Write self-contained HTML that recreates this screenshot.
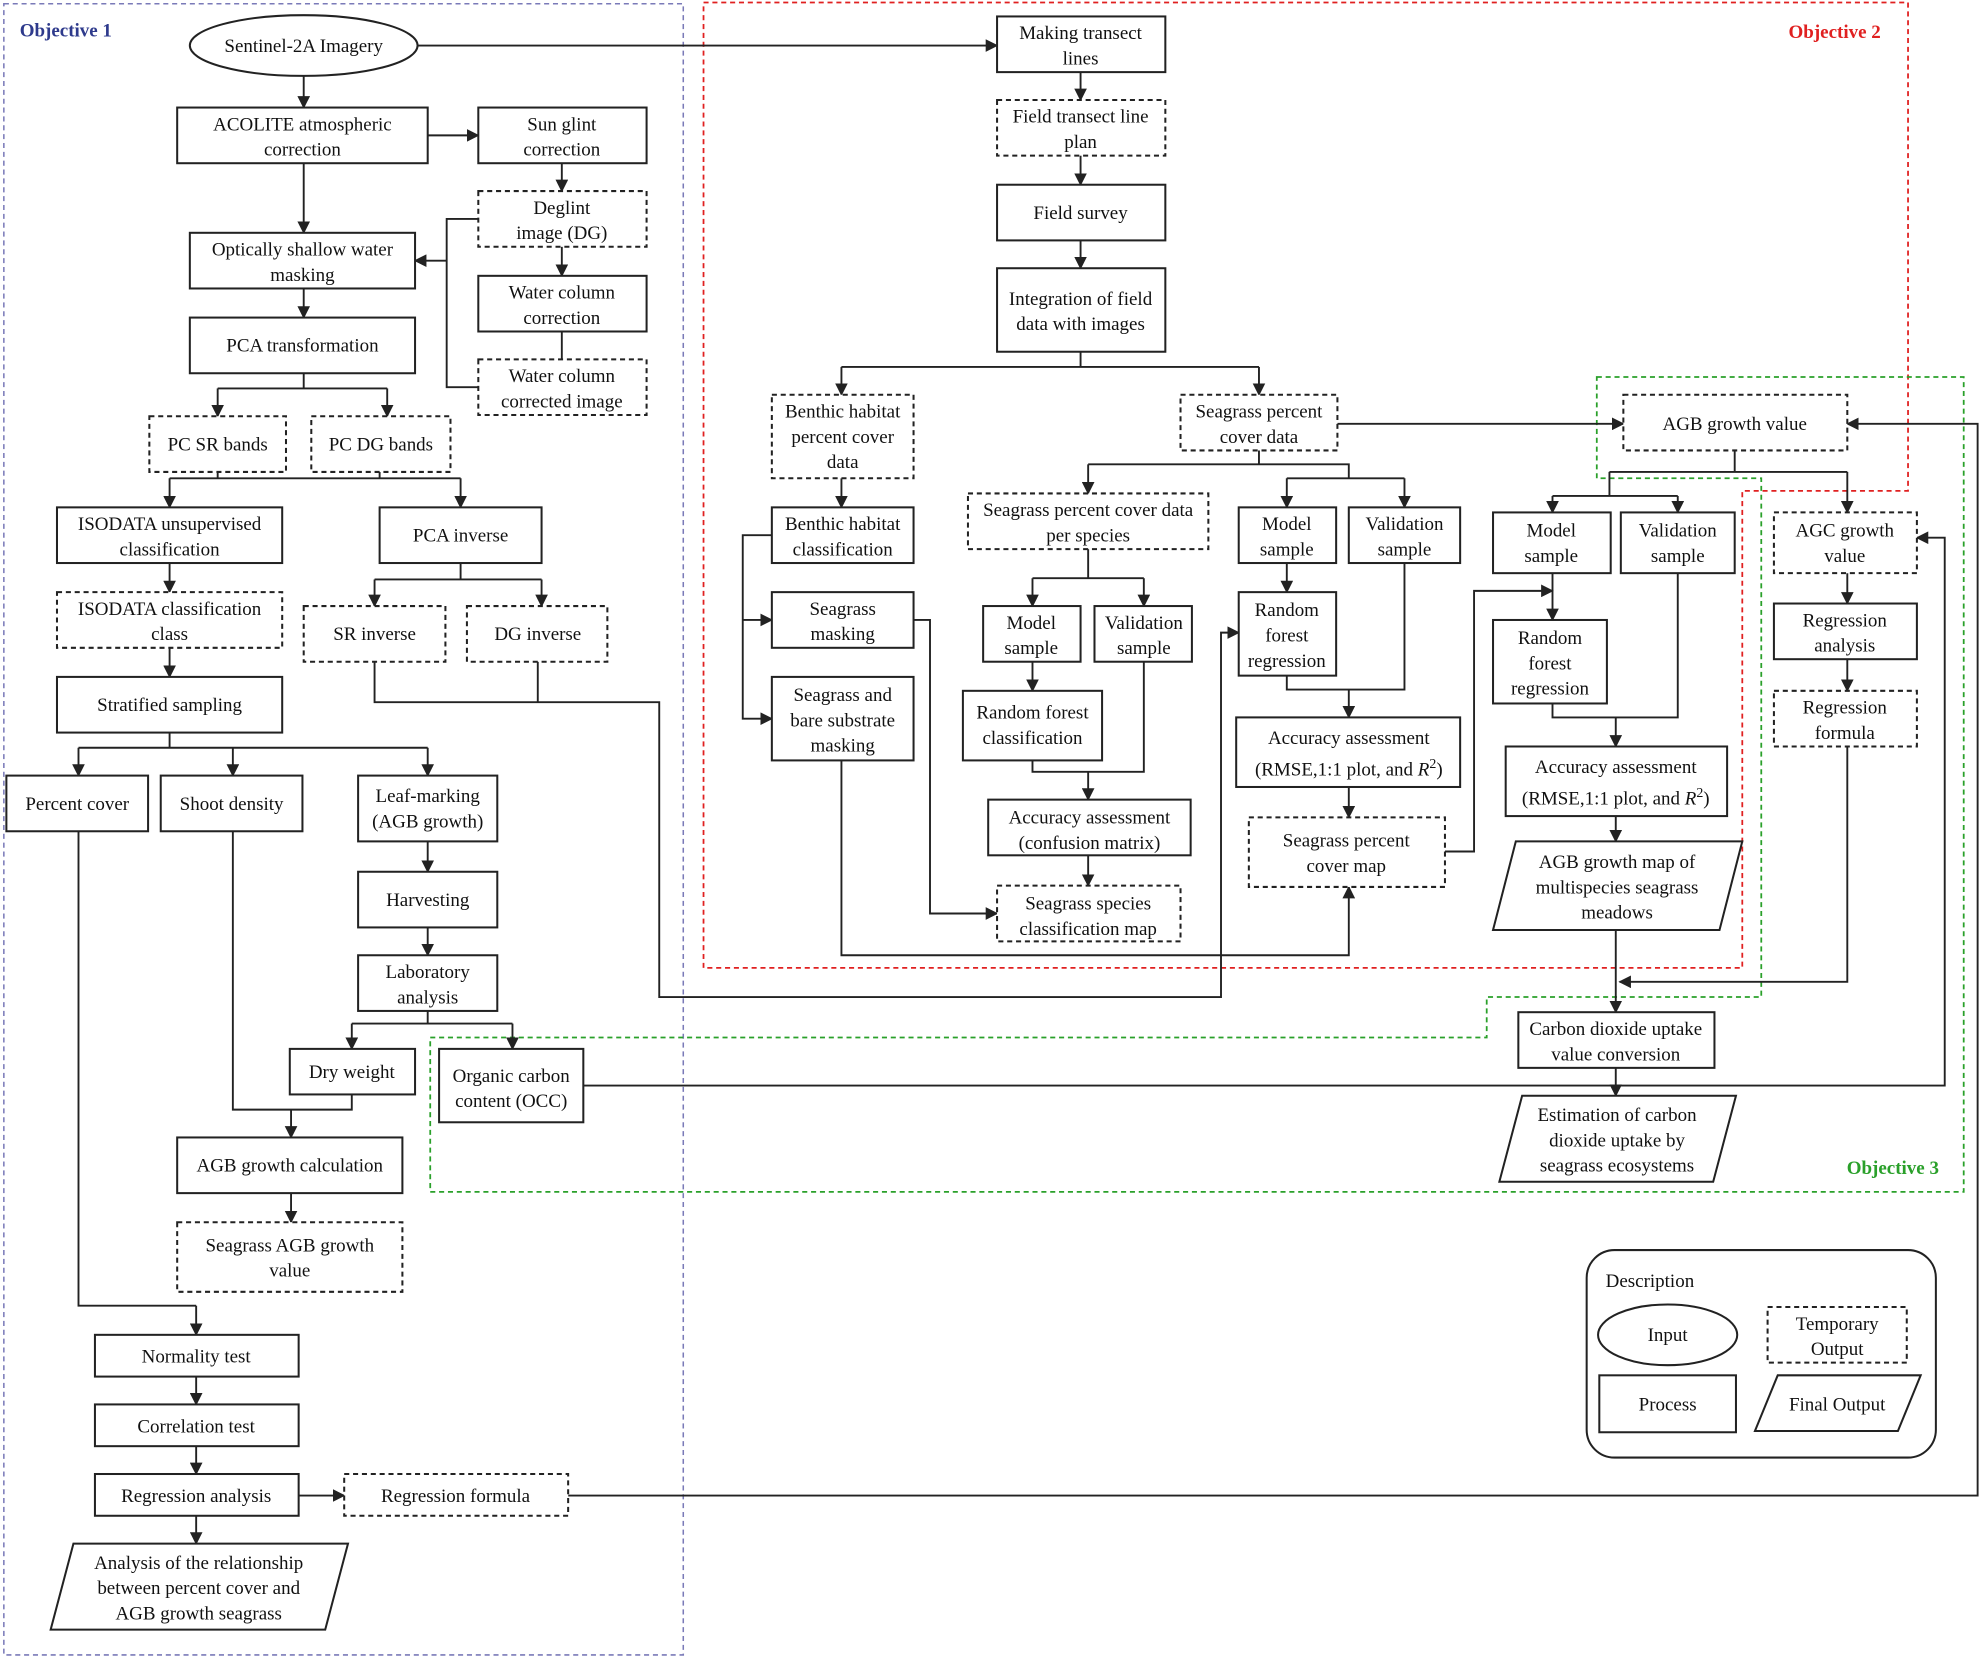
<!DOCTYPE html>
<html><head><meta charset="utf-8"><style>
html,body{margin:0;padding:0;background:#fff;}
svg{display:block;}
text{font-family:"Liberation Serif",serif;font-size:15px;fill:#111;text-anchor:middle;}
.b{fill:#fff;stroke:#222;stroke-width:1.6;}
.d{fill:#fff;stroke:#222;stroke-width:1.6;stroke-dasharray:4 3;}
.l{fill:none;stroke:#222;stroke-width:1.5;}
.a{fill:none;stroke:#222;stroke-width:1.5;marker-end:url(#ar);}
</style></head><body>
<svg width="1984" height="1660" viewBox="0 0 1568 1312" xmlns="http://www.w3.org/2000/svg">
<defs><marker id="ar" viewBox="0 0 10 10" refX="9" refY="5" markerWidth="10" markerHeight="10" orient="auto-start-reverse" markerUnits="userSpaceOnUse"><path d="M0,0 L10,5 L0,10 z" fill="#222"/></marker></defs>
<rect width="1568" height="1312" fill="#fff"/>
<rect x="3" y="3" width="537" height="1305" fill="none" stroke="#7a7ab8" stroke-width="1.2" stroke-dasharray="4 3"/>
<text x="52" y="29" style="font-weight:bold;fill:#2e3a8c;font-size:15px">Objective 1</text>
<path d="M556,2 H1508 V388 H1377 V765 H556 Z" fill="none" stroke="#e02020" stroke-width="1.4" stroke-dasharray="4 3"/>
<text x="1450" y="30" style="font-weight:bold;fill:#e02020">Objective 2</text>
<path d="M1262,298 H1552 V942 H340 V820 H1175 V788 H1392 V378 H1262 Z" fill="none" stroke="#2aa02a" stroke-width="1.4" stroke-dasharray="4 3"/>
<text x="1496" y="928" style="font-weight:bold;fill:#2aa02a">Objective 3</text>

<path class="a" d="M330,36 H788"/>
<path class="a" d="M240,60 V85"/>
<path class="a" d="M338,107 H378"/>
<path class="a" d="M444,129 V151"/>
<path class="a" d="M240,129 V184"/>
<path class="a" d="M444,195 V218"/>
<path class="l" d="M444,262 V284"/>
<path class="l" d="M378,173 H353 V306 H378"/>
<path class="a" d="M353,206 H328"/>
<path class="a" d="M240,228 V251"/>
<path class="l" d="M240,295 V307 M172,307 H306"/>
<path class="a" d="M172,307 V329"/><path class="a" d="M306,307 V329"/>
<path class="l" d="M172,373 V378 M300,373 V378 M134,378 H364"/>
<path class="a" d="M134,378 V401"/><path class="a" d="M364,378 V401"/>
<path class="a" d="M134,445 V468"/><path class="a" d="M134,512 V535"/>
<path class="l" d="M364,445 V458 M296,458 H428"/>
<path class="a" d="M296,458 V479"/><path class="a" d="M428,458 V479"/>
<path class="a" d="M296,523 V555 H521 V788 H965 V500 H979"/>
<path class="l" d="M425,523 V555"/>
<path class="l" d="M134,579 V591 M62,591 H338"/>
<path class="a" d="M62,591 V613"/><path class="a" d="M184,591 V613"/><path class="a" d="M338,591 V613"/>
<path class="a" d="M338,665 V689"/><path class="a" d="M338,733 V755"/>
<path class="l" d="M338,799 V809 M278,809 H405"/>
<path class="a" d="M278,809 V829"/><path class="a" d="M405,809 V829"/>
<path class="l" d="M184,657 V877 H278 V865"/>
<path class="a" d="M230,877 V899"/>
<path class="a" d="M230,943 V966"/>
<path class="l" d="M62,657 V1032 H155"/>
<path class="a" d="M155,1032 V1055"/>
<path class="a" d="M155,1088 V1110"/><path class="a" d="M155,1143 V1165"/>
<path class="a" d="M236,1182 H272"/>
<path class="a" d="M155,1198 V1220"/>
<path class="a" d="M449,1182 H1563 V335 H1460"/>
<path class="a" d="M461,858 H1537 V425 H1515"/>
<path class="a" d="M854,57 V79"/><path class="a" d="M854,123 V146"/><path class="a" d="M854,190 V212"/>
<path class="l" d="M854,278 V290 M665,290 H995"/>
<path class="a" d="M665,290 V312"/><path class="a" d="M995,290 V312"/>
<path class="a" d="M1057,335 H1283"/>
<path class="a" d="M665,378 V401"/>
<path class="a" d="M610,423 H587 V568 H610"/><path class="a" d="M587,490 H610"/>
<path class="l" d="M995,356 V367 M860,367 H1066 V378 M1017,378 H1110"/>
<path class="a" d="M860,367 V390"/><path class="a" d="M1017,378 V401"/><path class="a" d="M1110,378 V401"/>
<path class="l" d="M860,434 V457 M816,457 H904"/>
<path class="a" d="M816,457 V479"/><path class="a" d="M904,457 V479"/>
<path class="a" d="M816,523 V546"/>
<path class="l" d="M904,523 V610 H816 V601"/>
<path class="a" d="M860,610 V632"/>
<path class="a" d="M860,676 V700"/>
<path class="a" d="M722,490 H735 V722 H788"/>
<path class="a" d="M665,601 V755 H1066 V701"/>
<path class="a" d="M1017,445 V468"/>
<path class="l" d="M1017,534 V545 H1110 V445"/>
<path class="a" d="M1066,545 V567"/>
<path class="a" d="M1066,622 V646"/>
<path class="a" d="M1142,673 H1165 V467 H1227"/>
<path class="l" d="M1371,356 V373 M1272,373 H1460 M1272,373 V392 M1227,392 H1326"/>
<path class="a" d="M1460,373 V405"/><path class="a" d="M1227,392 V405"/><path class="a" d="M1326,392 V405"/>
<path class="a" d="M1227,453 V490"/>
<path class="l" d="M1227,556 V567 H1326 V453"/>
<path class="a" d="M1277,567 V590"/>
<path class="a" d="M1277,645 V665"/>
<path class="a" d="M1277,735 V800"/>
<path class="a" d="M1460,590 V776 H1280"/>
<path class="a" d="M1460,453 V477"/><path class="a" d="M1460,521 V546"/>
<path class="a" d="M1277,844 V866"/>

<ellipse class="b" cx="240" cy="36" rx="90" ry="24"/><text x="240" y="41">Sentinel-2A Imagery</text>
<rect class="b" x="140" y="85" width="198" height="44"/><text x="239" y="103">ACOLITE atmospheric</text><text x="239" y="123">correction</text>
<rect class="b" x="378" y="85" width="133" height="44"/><text x="444" y="103">Sun glint</text><text x="444" y="123">correction</text>
<rect class="d" x="378" y="151" width="133" height="44"/><text x="444" y="169">Deglint</text><text x="444" y="189">image (DG)</text>
<rect class="b" x="378" y="218" width="133" height="44"/><text x="444" y="236">Water column</text><text x="444" y="256">correction</text>
<rect class="d" x="378" y="284" width="133" height="44"/><text x="444" y="302">Water column</text><text x="444" y="322">corrected image</text>
<rect class="b" x="150" y="184" width="178" height="44"/><text x="239" y="202">Optically shallow water</text><text x="239" y="222">masking</text>
<rect class="b" x="150" y="251" width="178" height="44"/><text x="239" y="278">PCA transformation</text>
<rect class="d" x="118" y="329" width="108" height="44"/><text x="172" y="356">PC SR bands</text>
<rect class="d" x="246" y="329" width="110" height="44"/><text x="301" y="356">PC DG bands</text>
<rect class="b" x="45" y="401" width="178" height="44"/><text x="134" y="419">ISODATA unsupervised</text><text x="134" y="439">classification</text>
<rect class="b" x="300" y="401" width="128" height="44"/><text x="364" y="428">PCA inverse</text>
<rect class="d" x="45" y="468" width="178" height="44"/><text x="134" y="486">ISODATA classification</text><text x="134" y="506">class</text>
<rect class="d" x="240" y="479" width="112" height="44"/><text x="296" y="506">SR inverse</text>
<rect class="d" x="369" y="479" width="111" height="44"/><text x="425" y="506">DG inverse</text>
<rect class="b" x="45" y="535" width="178" height="44"/><text x="134" y="562">Stratified sampling</text>
<rect class="b" x="5" y="613" width="112" height="44"/><text x="61" y="640">Percent cover</text>
<rect class="b" x="127" y="613" width="112" height="44"/><text x="183" y="640">Shoot density</text>
<rect class="b" x="283" y="613" width="110" height="52"/><text x="338" y="634">Leaf-marking</text><text x="338" y="654">(AGB growth)</text>
<rect class="b" x="283" y="689" width="110" height="44"/><text x="338" y="716">Harvesting</text>
<rect class="b" x="283" y="755" width="110" height="44"/><text x="338" y="773">Laboratory</text><text x="338" y="793">analysis</text>
<rect class="b" x="229" y="829" width="99" height="36"/><text x="278" y="852">Dry weight</text>
<rect class="b" x="347" y="829" width="114" height="58"/><text x="404" y="855">Organic carbon</text><text x="404" y="875">content (OCC)</text>
<rect class="b" x="140" y="899" width="178" height="44"/><text x="229" y="926">AGB growth calculation</text>
<rect class="d" x="140" y="966" width="178" height="55"/><text x="229" y="989">Seagrass AGB growth</text><text x="229" y="1009">value</text>
<rect class="b" x="75" y="1055" width="161" height="33"/><text x="155" y="1077">Normality test</text>
<rect class="b" x="75" y="1110" width="161" height="33"/><text x="155" y="1132">Correlation test</text>
<rect class="b" x="75" y="1165" width="161" height="33"/><text x="155" y="1187">Regression analysis</text>
<rect class="d" x="272" y="1165" width="177" height="33"/><text x="360" y="1187">Regression formula</text>
<path class="b" d="M58,1220 H275 L257,1288 H40 Z"/><text x="157" y="1240">Analysis of the relationship</text><text x="157" y="1260">between percent cover and</text><text x="157" y="1280">AGB growth seagrass</text>

<rect class="b" x="788" y="13" width="133" height="44"/><text x="854" y="31">Making transect</text><text x="854" y="51">lines</text>
<rect class="d" x="788" y="79" width="133" height="44"/><text x="854" y="97">Field transect line</text><text x="854" y="117">plan</text>
<rect class="b" x="788" y="146" width="133" height="44"/><text x="854" y="173">Field survey</text>
<rect class="b" x="788" y="212" width="133" height="66"/><text x="854" y="241">Integration of field</text><text x="854" y="261">data with images</text>
<rect class="d" x="610" y="312" width="112" height="66"/><text x="666" y="330">Benthic habitat</text><text x="666" y="350">percent cover</text><text x="666" y="370">data</text>
<rect class="d" x="933" y="312" width="124" height="44"/><text x="995" y="330">Seagrass percent</text><text x="995" y="350">cover data</text>
<rect class="b" x="610" y="401" width="112" height="44"/><text x="666" y="419">Benthic habitat</text><text x="666" y="439">classification</text>
<rect class="d" x="765" y="390" width="190" height="44"/><text x="860" y="408">Seagrass percent cover data</text><text x="860" y="428">per species</text>
<rect class="b" x="979" y="401" width="77" height="44"/><text x="1017" y="419">Model</text><text x="1017" y="439">sample</text>
<rect class="b" x="1066" y="401" width="88" height="44"/><text x="1110" y="419">Validation</text><text x="1110" y="439">sample</text>
<rect class="b" x="610" y="468" width="112" height="44"/><text x="666" y="486">Seagrass</text><text x="666" y="506">masking</text>
<rect class="b" x="777" y="479" width="77" height="44"/><text x="815" y="497">Model</text><text x="815" y="517">sample</text>
<rect class="b" x="865" y="479" width="77" height="44"/><text x="904" y="497">Validation</text><text x="904" y="517">sample</text>
<rect class="b" x="979" y="468" width="77" height="66"/><text x="1017" y="487">Random</text><text x="1017" y="507">forest</text><text x="1017" y="527">regression</text>
<rect class="b" x="610" y="535" width="112" height="66"/><text x="666" y="554">Seagrass and</text><text x="666" y="574">bare substrate</text><text x="666" y="594">masking</text>
<rect class="b" x="761" y="546" width="110" height="55"/><text x="816" y="568">Random forest</text><text x="816" y="588">classification</text>
<rect class="b" x="977" y="567" width="177" height="55"/><text x="1066" y="588">Accuracy assessment</text><text x="1066" y="613">(RMSE,1:1 plot, and <tspan font-style="italic">R</tspan><tspan dy="-6" font-size="11">2</tspan><tspan dy="6">)</tspan></text>
<rect class="b" x="781" y="632" width="160" height="44"/><text x="861" y="651">Accuracy assessment</text><text x="861" y="671">(confusion matrix)</text>
<rect class="d" x="987" y="646" width="155" height="55"/><text x="1064" y="669">Seagrass percent</text><text x="1064" y="689">cover map</text>
<rect class="d" x="788" y="700" width="145" height="44"/><text x="860" y="719">Seagrass species</text><text x="860" y="739">classification map</text>
<rect class="d" x="1283" y="312" width="177" height="44"/><text x="1371" y="340">AGB growth value</text>
<rect class="b" x="1180" y="405" width="93" height="48"/><text x="1226" y="424">Model</text><text x="1226" y="444">sample</text>
<rect class="b" x="1281" y="405" width="90" height="48"/><text x="1326" y="424">Validation</text><text x="1326" y="444">sample</text>
<rect class="d" x="1402" y="405" width="113" height="48"/><text x="1458" y="424">AGC growth</text><text x="1458" y="444">value</text>
<rect class="b" x="1180" y="490" width="90" height="66"/><text x="1225" y="509">Random</text><text x="1225" y="529">forest</text><text x="1225" y="549">regression</text>
<rect class="b" x="1402" y="477" width="113" height="44"/><text x="1458" y="495">Regression</text><text x="1458" y="515">analysis</text>
<rect class="d" x="1402" y="546" width="113" height="44"/><text x="1458" y="564">Regression</text><text x="1458" y="584">formula</text>
<rect class="b" x="1190" y="590" width="175" height="55"/><text x="1277" y="611">Accuracy assessment</text><text x="1277" y="636">(RMSE,1:1 plot, and <tspan font-style="italic">R</tspan><tspan dy="-6" font-size="11">2</tspan><tspan dy="6">)</tspan></text>
<path class="b" d="M1198,665 H1377 L1359,735 H1180 Z"/><text x="1278" y="686">AGB growth map of</text><text x="1278" y="706">multispecies seagrass</text><text x="1278" y="726">meadows</text>
<rect class="b" x="1200" y="800" width="155" height="44"/><text x="1277" y="818">Carbon dioxide uptake</text><text x="1277" y="838">value conversion</text>
<path class="b" d="M1203,866 H1372 L1354,934 H1185 Z"/><text x="1278" y="886">Estimation of carbon</text><text x="1278" y="906">dioxide uptake by</text><text x="1278" y="926">seagrass ecosystems</text>

<rect x="1254" y="988" width="276" height="164" rx="22" fill="#fff" stroke="#222" stroke-width="1.6"/>
<text x="1304" y="1017">Description</text>
<ellipse class="b" cx="1318" cy="1055" rx="55" ry="24"/><text x="1318" y="1060">Input</text>
<rect class="d" x="1397" y="1033" width="110" height="44"/><text x="1452" y="1051">Temporary</text><text x="1452" y="1071">Output</text>
<rect class="b" x="1264" y="1087" width="108" height="45"/><text x="1318" y="1115">Process</text>
<path class="b" d="M1405,1087 H1518 L1500,1131 H1387 Z"/><text x="1452" y="1115">Final Output</text>
</svg>
</body></html>
